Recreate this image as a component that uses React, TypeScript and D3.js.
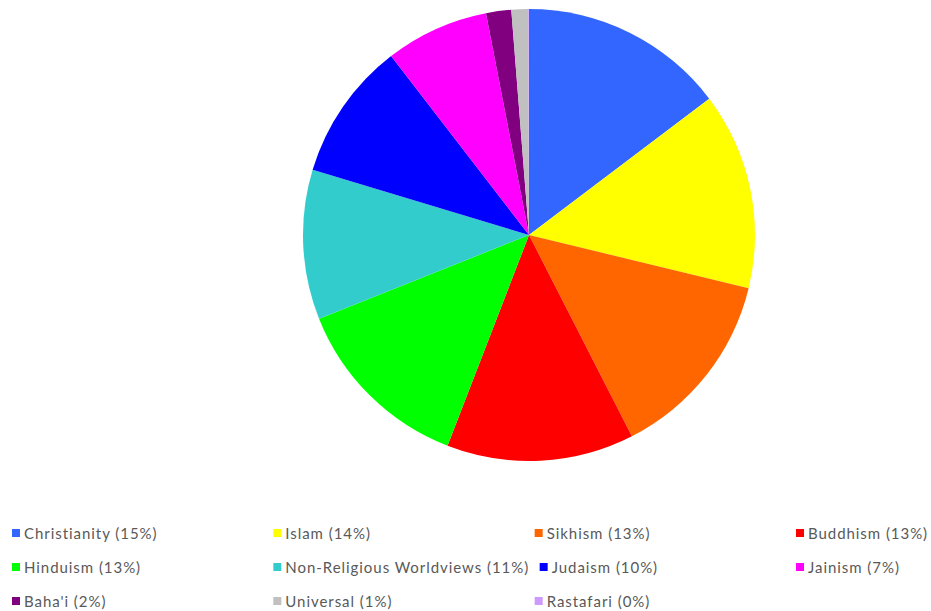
import React from "react";
import * as d3 from "d3";

const categories = [
  "Christianity", "Islam", "Sikhism", "Buddhism", "Hinduism",
  "Non-Religious Worldviews", "Judaism", "Jainism", "Baha'i", "Universal", "Rastafari",
];
const values = [14.7, 14.1, 13.7, 13.4, 13.1, 10.7, 9.9, 7.4, 1.8, 1.2, 0.05];
const labels = ["15%", "14%", "13%", "13%", "13%", "11%", "10%", "7%", "2%", "1%", "0%"];
const colors = [
  "#3366FF", "#FFFF00", "#FF6600", "#FF0000", "#00FF00",
  "#33CCCC", "#0000FF", "#FF00FF", "#800080", "#C0C0C0", "#CC99FF",
];

const W = 931, H = 611;
const cx = 529, cy = 235, R = 226;

export default function App() {
  const pie = d3.pie<number>().sort(null).value((d) => d);
  const arcs = pie(values);
  const arcGen = d3.arc<d3.PieArcDatum<number>>().innerRadius(0).outerRadius(R);

  const colX = d3.scaleLinear().domain([0, 3]).range([12, 796]);
  const rowY = d3.scaleLinear().domain([0, 2]).range([533, 601]);

  const items = categories.map((c, i) => {
    const col = i % 4, row = Math.floor(i / 4);
    return { c, i, col, row, x: colX(col), y: rowY(row) };
  });
  const shiftIdx = categories.indexOf("Judaism");
  items[shiftIdx].x += 5;

  return (
    <svg width={W} height={H} style={{ position: "absolute", left: 0, top: 0 }}>
      <rect width={W} height={H} fill="#fff" />
      <g transform={`translate(${cx},${cy})`}>
        {arcs.map((a, i) => (
          <path key={i} d={arcGen(a) || ""} fill={colors[i]} />
        ))}
      </g>
      <g fontFamily="Lato, 'Open Sans', sans-serif" fontSize={15} letterSpacing={0.95} fill="#595959">
        {items.map((it) => (
          <g key={it.i} transform={`translate(${it.x},${it.y})`}>
            <rect x={0} y={-4} width={8} height={8} fill={colors[it.i]} />
            <text x={12} y={0} dominantBaseline="central">
              {`${it.c} (${labels[it.i]})`}
            </text>
          </g>
        ))}
      </g>
    </svg>
  );
}
